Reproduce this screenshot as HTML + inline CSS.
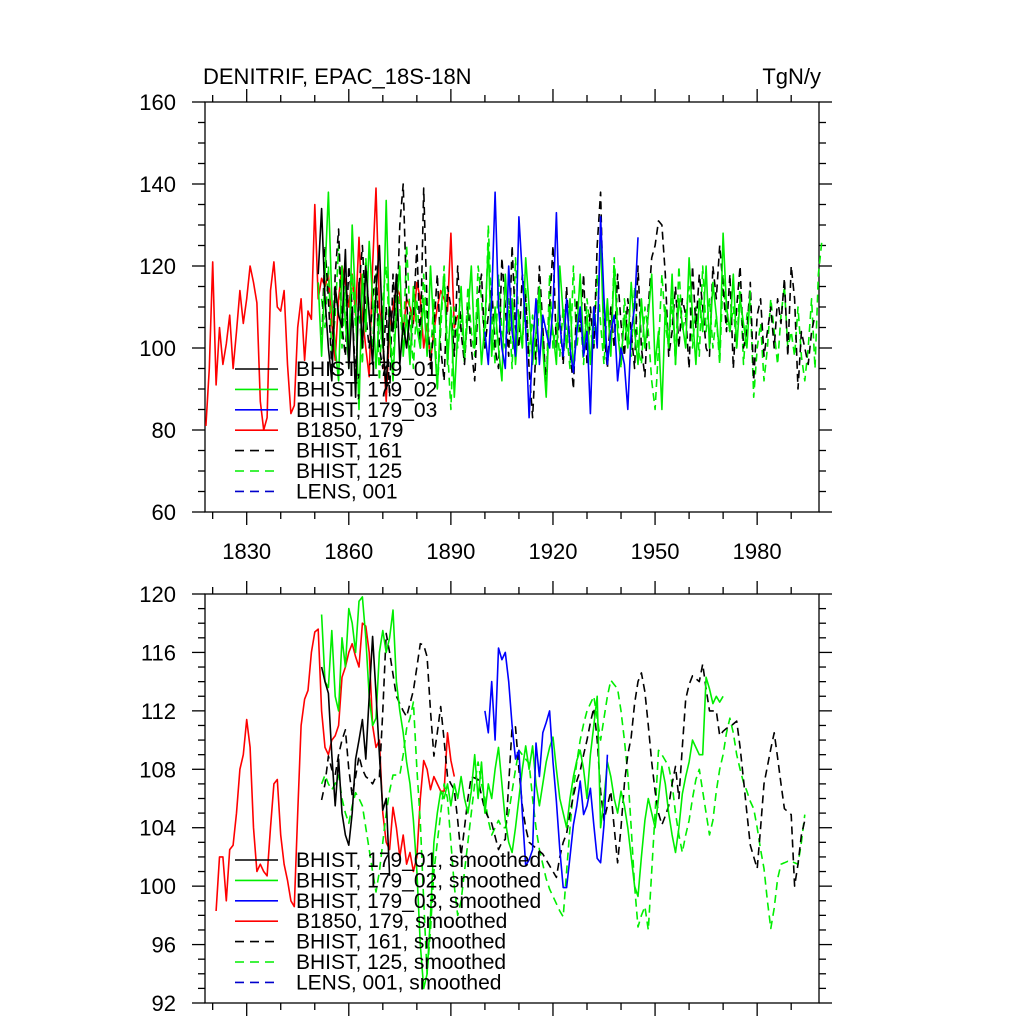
<!DOCTYPE html>
<html><head><meta charset="utf-8"><style>
body{margin:0;background:#fff}
svg text{font-family:"Liberation Sans",sans-serif;fill:#000}
</style></head><body>
<svg id="c" width="1024" height="1024" viewBox="0 0 1024 1024" xmlns="http://www.w3.org/2000/svg">
<text x="203" y="84" font-size="22">DENITRIF, EPAC_18S-18N</text>
<text x="821" y="84" font-size="22" text-anchor="end">TgN/y</text>
</svg>
<script>
// ---- top panel data (annual) ----
const redYears0 = 1818;
const redTop = [81,95,121,91,105,96,101,108,95,104,114,106,112,120,116,111,87,80,83,114,121,110,109,114,96,84,86,105,112,97,109,107,135,112,117,115,118,106,97,112,120,116,110,118,108,127,108,100,93,120,139,110,102,87,105,110,115,113,104,112,110,106,116,112,100,106,97,104,110,114,112,109,128,105,108];
const blackTop0 = 1851;
const blackTop = [118,134,112,100,92,115,108,105,124,95,110,88,116,100,120,108,96,114,125,102,90,110,104,118,96,106,100,108];
const greenTop0 = 1851;
const greenTop = [116,98,118,138,112,100,92,120,106,96,130,110,85,118,104,126,112,95,108,100,136,104,92,110,120,98,108,96,115,105,100,112,98,120,104,90,108,118,96,110,88,104,115,98,108,120,100,112,96,106,125,98,110,100,92,118,104,112,96,108,100,122,110,96,104,115,100,88,110,104,96,120,108,100,112,95,104,118,100,108,96,110,102,128,100,112,98,120,104,96,108,100,116,104,96,112,100,108,118,96,104,85,110,100,118,96,112,106,100,122,108,96,112,104,120,100,116,108,98,128,110,104,118,100,112,106,100,114];
const blueTop0 = 1900;
const blueTop = [104,96,112,138,110,100,95,120,104,98,132,118,105,83,100,112,96,108,104,100,110,133,106,98,112,100,94,104,110,98,104,84,110,100,132,112,96,104,108,92,100,96,85,104,110,127];
const bdTop0 = 1852;
const bdTop = [100,125,112,95,118,129,105,98,120,110,92,115,125,108,100,112,120,100,95,110,88,118,105,130,140,112,98,108,125,100,139,110,95,105,118,100,92,115,110,98,120,104,96,110,100,92,112,118,100,108,115,100,95,122,110,98,125,105,100,118,112,95,83,100,120,105,90,110,125,100,108,96,115,100,90,112,104,118,96,110,100,125,138,104,95,110,100,118,106,98,112,104,95,120,100,93,110,122,125,131,130,118,98,104,115,100,112,108,95,120,105,118,110,100,98,120,112,125,115,104,118,95,110,120,100,104,116,92,108,112,98,104,110,100,112,106,117,98,120,112,90,104,100,96,104,108];
const gdTop0 = 1852;
const gdTop = [112,105,120,98,108,125,100,115,95,118,105,110,96,122,108,100,118,92,112,120,104,96,115,110,100,125,108,95,112,100,118,106,98,112,90,104,120,100,85,110,100,108,96,115,104,98,120,112,100,130,108,96,118,104,100,112,95,122,106,100,115,98,108,96,112,104,90,118,100,106,98,110,104,95,120,100,108,96,112,104,100,118,106,96,110,100,122,108,95,112,104,98,115,100,96,110,104,92,85,100,118,106,100,112,96,120,104,108,115,100,110,98,120,104,112,100,108,96,118,106,104,110,100,116,96,108,112,88,100,106,92,100,112,104,96,108,115,100,104,98,110,98,92,100,112,95,118,126];
// ---- bottom panel data (smoothed) ----
const redBot0 = 1821;
const redBot = [98.3,102,102,99,102.5,102.8,105,108,109,111.4,109.5,104,101,101.5,101,100.7,104,107,107.3,103.5,101.5,100.4,99,98.6,105,111,112.8,113.4,116,117.4,117.6,112,109.5,109,110,110.3,111,114.3,115,116,116.6,115.7,115,118,117.8,116,111,109.5,110,105,103,102.5,105.4,104,102,103.5,101.5,102.3,101,102,106,108.6,108,106.6,107.5,107,106.5,106.5,110.5,108.6,107.5];
const blackBot0 = 1852;
const blackBot = [115,114,113.2,109,105.5,108.7,105,103.5,102.8,105,108.7,110,111.4,108.7,113,117.1,113.2,109,105.2,106,100.7];
const greenBot0 = 1852;
const greenBot = [118.6,114,113.6,117.5,113,112,117,115,119,118,116,119.5,119.8,117,113,111,111.5,116,117.5,116,117,118.9,114,112,110.5,108.5,107,104.5,101,96,93,94,98,103,105,106.5,106,107,105.5,107,106,107.5,106,105,106.5,109,106,108.5,105,107,106,108,109.5,107,104.5,103,102.3,104,106,108,109.6,108,109.6,107,105.5,107,108.5,109.5,110.2,108,106,105,104,106,107.5,108.6,109.3,108,106,109,111,113,104,106,108.5,107.5,106,105,106.5,105.5,104,102,100,99.3,102,104.5,106,105,104,106,108.2,107,105,103.5,102.3,104,106.3,107.5,108.5,110,109.5,109,109,114.3,113.5,112.5,113,112.6,113];
const blueBot0 = 1900;
const blueBot = [112,110.5,114,110,116.3,115.5,116,114,111,108.7,109.3,105,101.4,101.8,102.5,109.8,107.5,110.5,111.2,112,108.5,105.8,102.5,99.9,99.9,102,104.2,105.5,107.2,104.9,105.5,106.7,104.2,101.9,101.6,104.2,109];
const bdBot0 = 1852;
const bdBot = [105.9,107,108.9,108,107.6,109,110,110.7,108,106.2,107.5,108.9,108,107.5,107.3,107,107.5,107.5,112,117.3,116,114.5,113,112.5,112,111.6,112.5,113.4,115,116.6,116.5,115.7,112,108.9,110.5,112.3,110,107.5,107,106.6,104.5,102.1,104,106,107.5,107.4,107.3,106.2,105.2,104.7,104.3,103.4,102.5,103,103.2,107,110.9,110.9,108,105.5,104,103,102.8,102.6,102.4,102.2,101.8,101.4,101,100.6,102,103,103.6,105,106.2,107.2,107.9,109,110,111.2,112.2,110,106.5,104.5,105.5,106.5,104,101.6,104,107,109,110.2,112.5,114,114.6,113.3,111,108.5,106.5,105,104.2,104.8,105.5,107,108.2,106,109.5,112.8,113.8,114.4,114.2,114,115.2,113.5,112,112,112,110.3,110.6,110.8,110.9,111.1,111.3,109.5,107.3,105,102.8,102,101.2,104,107,108.2,109.4,110.5,108.8,107,105.3,105.1,104.9,100,101.5,103.5,104.5];
const gdBot0 = 1852;
const gdBot = [107,107.6,107,106.6,107,107.6,106,105,104.3,105.5,106.4,106,105.5,104,102.5,101,99.6,101,103,105,106.5,107.6,107.6,107.6,109,110.8,111.5,112.6,108,104.4,99,94,97,101,103,105,107,106,103,100,98,99,101,103,105,107,108.5,107,106,104.5,103.5,104,104.5,104,104,105,106.5,108,109.3,109,108.7,108.4,106,104,102.5,101.5,100.5,99.8,99.3,98.8,98.3,97.9,101,104,106.6,108.5,110,111.1,112,112.5,113,111.5,110,111.5,113,114.1,113.8,113.5,112,110,107.7,104,100,97.2,98,98.6,97,101,105,109.3,109,108.6,108.2,107,105,103.5,102.3,103.5,104.5,106,107.3,108,106.5,105,103.5,104.5,106.5,108,109,110.5,111.5,110.5,109,108,107.1,106.5,105.8,105.3,104,102.5,101.2,99,97.1,98.5,100.5,101.5,101.6,101.7,101.7,101.6,101.5,103,104.9];
const xTickLabels = ["1830","1860","1890","1920","1950","1980"];
const topYLabels = ["60","80","100","120","140","160"];
const botYLabels = ["92","96","100","104","108","112","116","120"];
const legendTop = ["BHIST, 179_01","BHIST, 179_02","BHIST, 179_03","B1850, 179","BHIST, 161","BHIST, 125","LENS, 001"];
const legendBot = ["BHIST, 179_01, smoothed","BHIST, 179_02, smoothed","BHIST, 179_03, smoothed","B1850, 179, smoothed","BHIST, 161, smoothed","BHIST, 125, smoothed","LENS, 001, smoothed"];

const NS="http://www.w3.org/2000/svg";
const svg=document.getElementById('c');
const X0=205,X1=819,PXY=3.403,YMIN=1830-(246.7-205)/PXY;
function sx(yr){return X0+(yr-YMIN)*PXY;}
function mk(tag,attrs,parent){const e=document.createElementNS(NS,tag);for(const k in attrs)e.setAttribute(k,attrs[k]);(parent||svg).appendChild(e);return e;}

function panel(top,bot,vmin,vmax,minorStep,majorStep,yLabels,showX,prefix){
  const sy=v=>bot-(v-vmin)/(vmax-vmin)*(bot-top);
  const g=mk('g',{});
  
  
  const ax=mk('g',{stroke:'#000','stroke-width':1.3,fill:'none'},g);
  
  
  mk('rect',{x:X0,y:top,width:X1-X0,height:bot-top},ax);
  for(let yr=1820;yr<=1990;yr+=10){
    const x=sx(yr),L=((yr-1830)%30===0)?13:7;
    mk('line',{x1:x,y1:top,x2:x,y2:top-L},ax);
    mk('line',{x1:x,y1:bot,x2:x,y2:bot+L},ax);
  }
  for(let v=vmin;v<=vmax+1e-9;v+=minorStep){
    const y=sy(v),L=(Math.abs((v-vmin)/majorStep-Math.round((v-vmin)/majorStep))<1e-6)?13:7;
    mk('line',{x1:X0,y1:y,x2:X0-L,y2:y},ax);
    mk('line',{x1:X1,y1:y,x2:X1+L,y2:y},ax);
  }
  yLabels.forEach(s=>{
    const t=mk('text',{x:176,y:sy(+s)+8,'font-size':22,'text-anchor':'end'},g);
    
    
    t.textContent=s;
  });
  if(showX){xTickLabels.forEach(s=>{
    const t=mk('text',{x:sx(+s),y:bot+47,'font-size':22,'text-anchor':'middle'},g);
    
    
    t.textContent=s;
  });}
  return {g,sy};
}
function series(p,arr,y0,color,dash,name){
  const pts=arr.map((v,i)=>sx(y0+i).toFixed(1)+','+p.sy(v).toFixed(1)).join(' ');
  const a={points:pts,fill:'none',stroke:color,'stroke-width':1.6,'stroke-linejoin':'round'};
  if(dash)a['stroke-dasharray']='8,5';
  const e=mk('polyline',a,p.g);
  
  
}
function legend(p,labels,y0,prefix){
  const cols=[['#000',0],['#00ee00',0],['#0000ff',0],['#ff0000',0],['#000',1],['#00ee00',1],['#0000cc',1]];
  labels.forEach((s,i)=>{
    const y=y0+i*20.4;
    const g=mk('g',{},p.g);
    
    
    const a={x1:235,y1:y,x2:278,y2:y,stroke:cols[i][0],'stroke-width':1.6};
    if(cols[i][1])a['stroke-dasharray']='9,6';
    mk('line',a,g);
    const t=mk('text',{x:296,y:y+7,'font-size':21},g);
    t.textContent=s;
  });
}
const P1=panel(102,512,60,160,5,20,topYLabels,true,'top');
series(P1,redTop,redYears0,'#ff0000',false,'b1850-179-line');
series(P1,gdTop,gdTop0,'#00ee00',true,'bhist-125-line');
series(P1,bdTop,bdTop0,'#000',true,'bhist-161-line');
series(P1,greenTop,greenTop0,'#00ee00',false,'bhist-179-02-line');
series(P1,blueTop,blueTop0,'#0000ff',false,'bhist-179-03-line');
series(P1,blackTop,blackTop0,'#000',false,'bhist-179-01-line');
legend(P1,legendTop,369,'top');

const P2=panel(594,1003,92,120,1,4,botYLabels,false,'bottom');
series(P2,redBot,redBot0,'#ff0000',false,'b1850-179-smoothed-line');
series(P2,gdBot,gdBot0,'#00ee00',true,'bhist-125-smoothed-line');
series(P2,bdBot,bdBot0,'#000',true,'bhist-161-smoothed-line');
series(P2,greenBot,greenBot0,'#00ee00',false,'bhist-179-02-smoothed-line');
series(P2,blueBot,blueBot0,'#0000ff',false,'bhist-179-03-smoothed-line');
series(P2,blackBot,blackBot0,'#000',false,'bhist-179-01-smoothed-line');
legend(P2,legendBot,860,'bottom');
</script>
</body></html>
